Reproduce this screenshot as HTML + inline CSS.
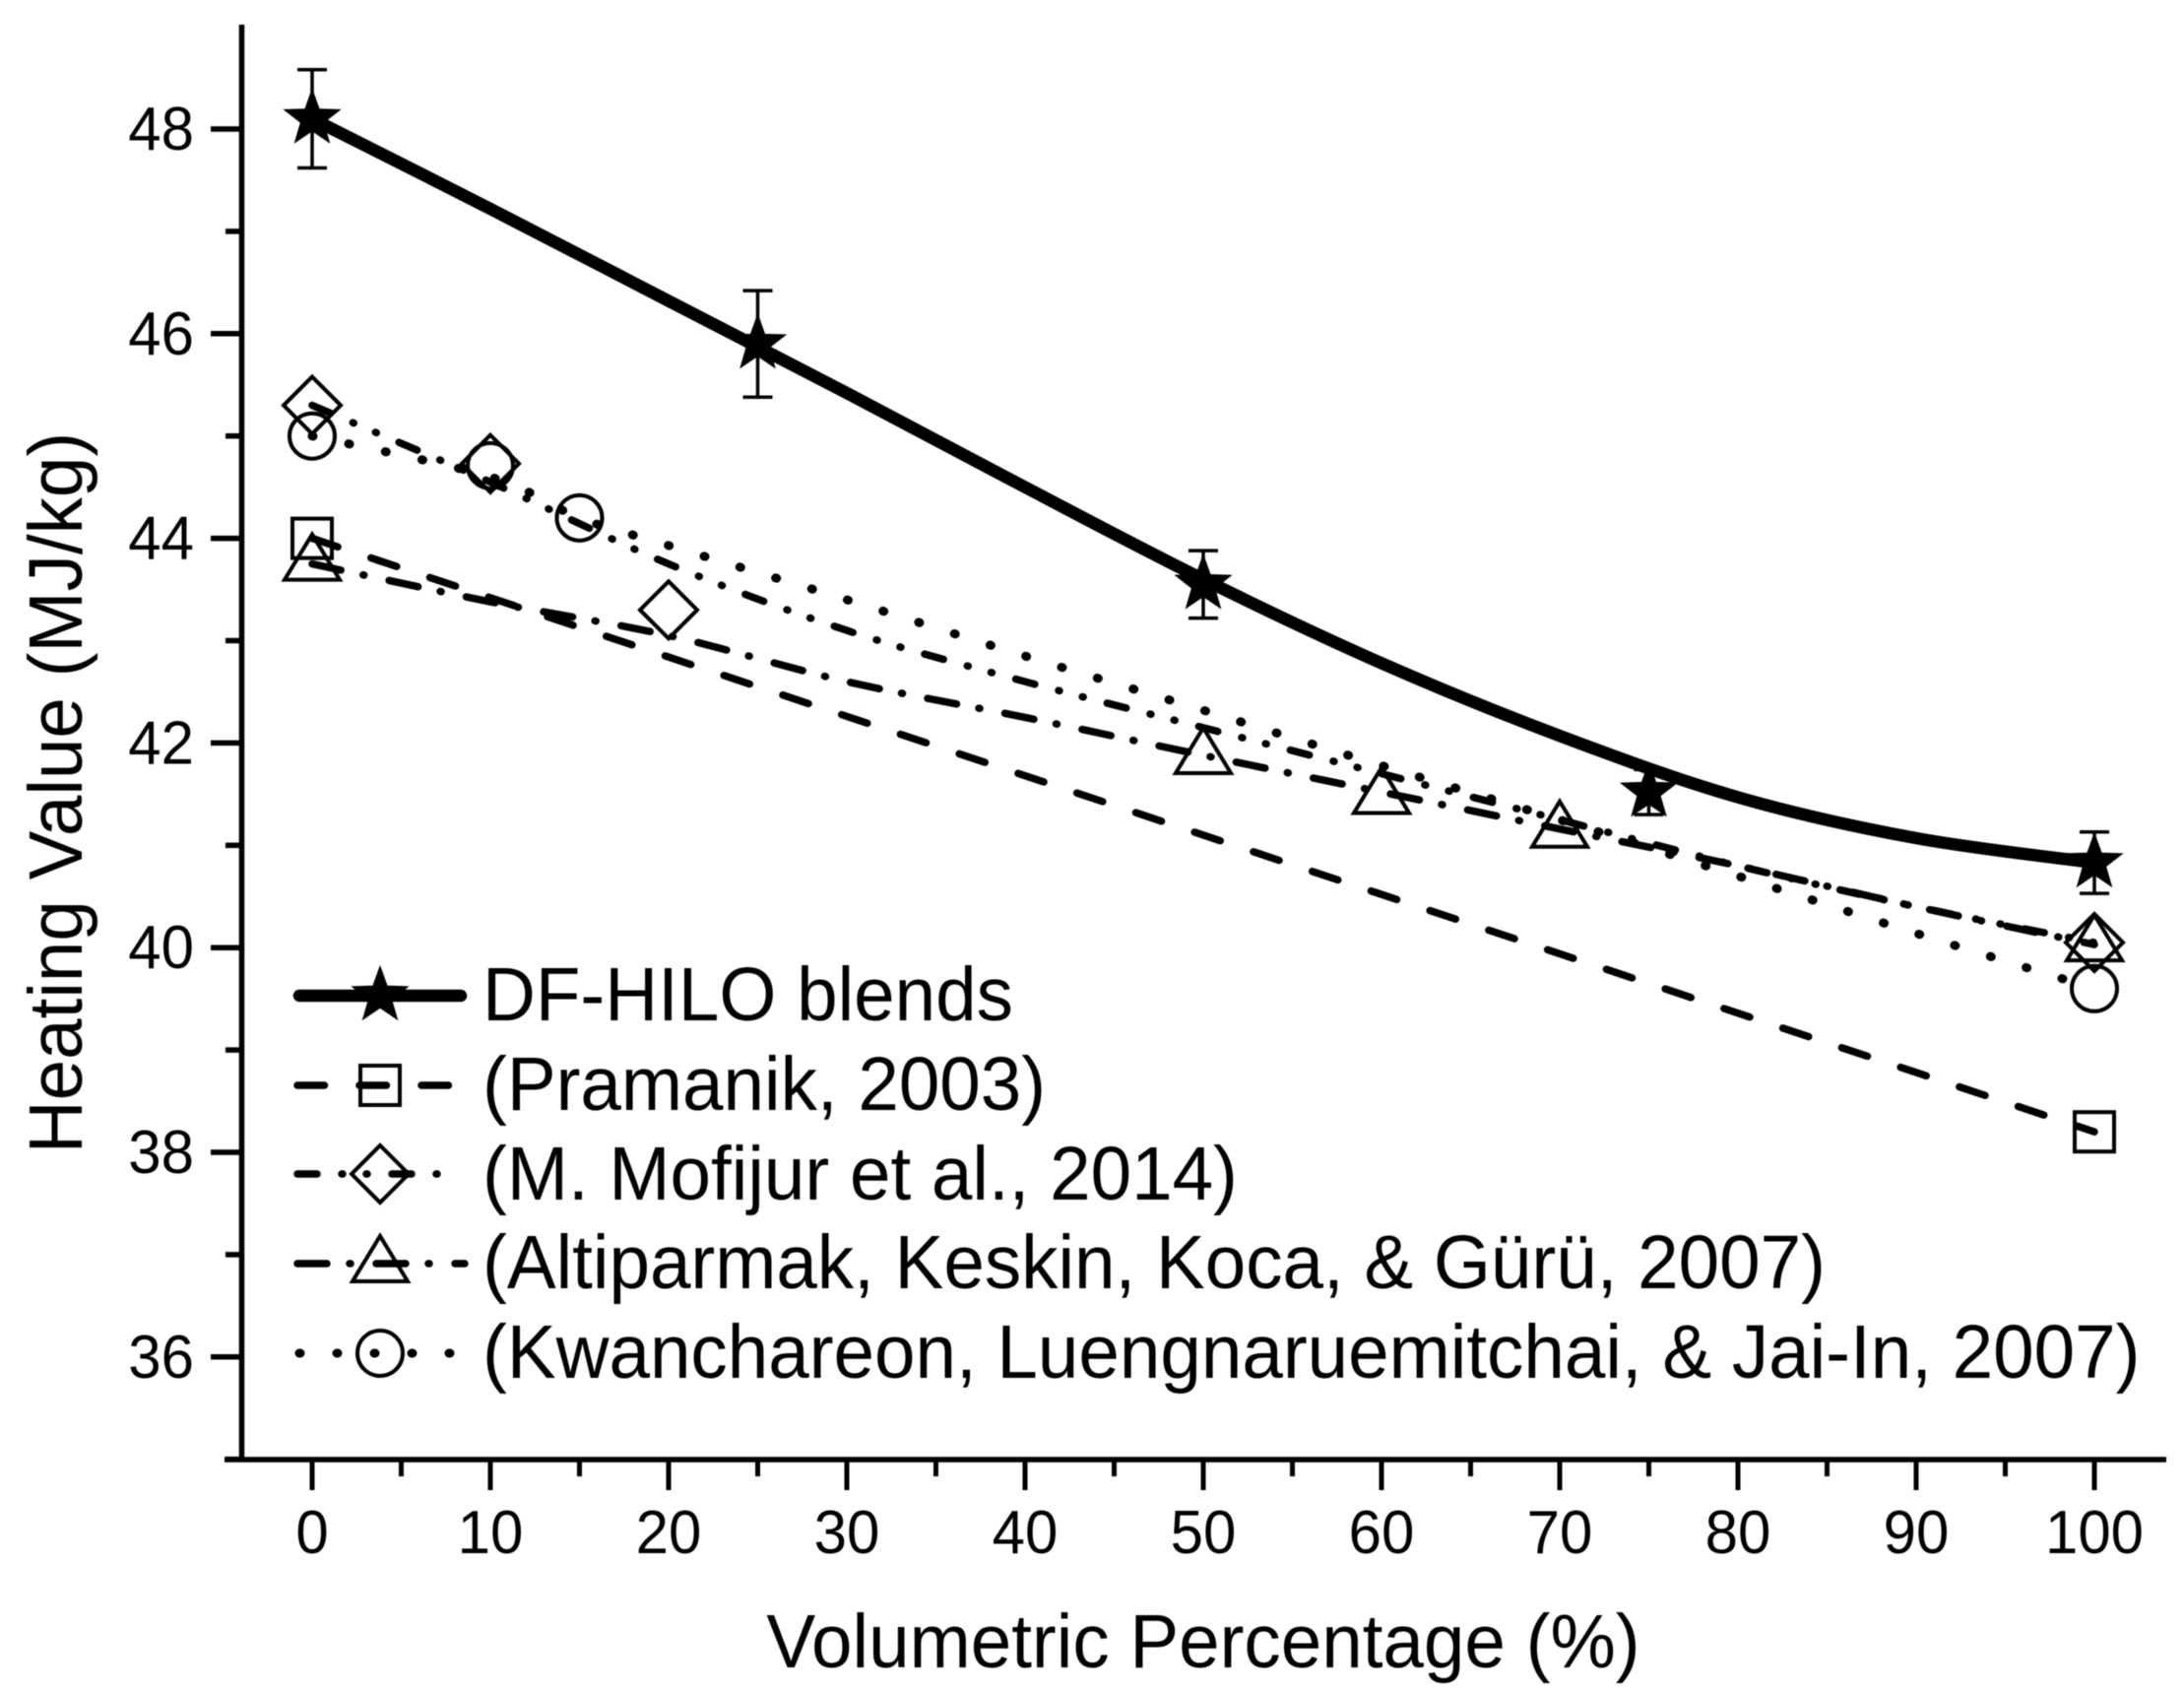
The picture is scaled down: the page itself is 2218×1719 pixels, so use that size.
<!DOCTYPE html>
<html lang="en">
<head>
<meta charset="utf-8">
<title>Heating Value vs Volumetric Percentage</title>
<style>
html,body{margin:0;padding:0;background:#fff;}
svg{display:block;filter:blur(0.6px);}
text{font-family:"Liberation Sans",Arial,sans-serif;fill:#000;}
</style>
</head>
<body>
<svg id="chart" xmlns="http://www.w3.org/2000/svg" width="2218" height="1719" viewBox="0 0 2218 1719">
  <rect width="2218" height="1719" fill="#fff"/>
  <g id="axes"></g>
  <g id="series"></g>
  <g id="legend">
    <text transform="translate(490,1036) scale(1,1.03)" font-size="74.6">DF-HILO blends</text>
    <text transform="translate(490,1127) scale(1,1.03)" font-size="74.6">(Pramanik, 2003)</text>
    <text transform="translate(490,1218) scale(1,1.03)" font-size="74.6">(M. Mofijur et al., 2014)</text>
    <text transform="translate(490,1308) scale(1,1.03)" font-size="74.6">(Altiparmak, Keskin, Koca, &amp; Gürü, 2007)</text>
    <text transform="translate(490,1399) scale(1,1.03)" font-size="74.6">(Kwanchareon, Luengnaruemitchai, &amp; Jai-In, 2007)</text>
  </g>
  <text transform="translate(1222,1693) scale(1,1.03)" font-size="74.6" text-anchor="middle">Volumetric Percentage (%)</text>
  <text transform="translate(83,805) rotate(-90) scale(1,1.03)" font-size="74.6" text-anchor="middle">Heating Value (MJ/kg)</text>
</svg>
<script>
// ---- Tick labels ----
var xTickValues = [0, 10, 20, 30, 40, 50, 60, 70, 80, 90, 100];
var xMinorValues = [5, 15, 25, 35, 45, 55, 65, 75, 85, 95];
var yTickValues = [36, 38, 40, 42, 44, 46, 48];
var yMinorValues = [35, 37, 39, 41, 43, 45, 47];

// ---- DF-HILO blends ----
var dfX = [0, 25, 50, 75, 100];
var dfY = [48.1, 45.9, 43.55, 41.52, 40.83];
var dfErr = [0.48, 0.52, 0.33, 0.22, 0.3];
var dfFitX = [0, 10, 20, 30, 40, 50, 60, 70, 80, 90, 100];
var dfFitY = [48.1, 47.22, 46.32, 45.42, 44.5, 43.6, 42.78, 42.07, 41.47, 41.07, 40.83];

// ---- Pramanik, 2003 ----
var pramanikX = [0, 100];
var pramanikY = [44, 38.2];

// ---- Mofijur et al., 2014 ----
var mofijurX = [0, 10, 20, 100];
var mofijurY = [45.3, 44.73, 43.3, 40.05];
var mofijurFitX = [0, 10, 20, 30, 40, 50, 60, 70, 80, 90, 100];
var mofijurFitY = [45.3, 44.55, 43.75, 43.1, 42.6, 42.15, 41.7, 41.25, 40.8, 40.4, 40.05];

// ---- Altiparmak et al., 2007 ----
var altiparmakX = [0, 50, 60, 70, 100];
var altiparmakY = [43.75, 41.86, 41.47, 41.14, 40.03];
var altiparmakFitX = [0, 10, 20, 30, 40, 50, 60, 70, 80, 90, 100];
var altiparmakFitY = [43.75, 43.38, 43.05, 42.6, 42.25, 41.88, 41.52, 41.16, 40.8, 40.4, 40.03];

// ---- Kwanchareon et al., 2007 ----
var kwanX = [0, 10, 15, 100];
var kwanY = [45, 44.71, 44.2, 39.6];
var kwanFitX = [0, 10, 15, 20, 30, 40, 50, 60, 70, 80, 90, 100];
var kwanFitY = [45, 44.6, 44.2, 43.93, 43.4, 42.85, 42.32, 41.78, 41.25, 40.7, 40.14, 39.6];

// ---- Axis functions ----
function xScale(v) { return 317 + v * 18.1; }
function yScale(v) { return 131 + (48 - v) * 103.9; }

var NS = 'http://www.w3.org/2000/svg';
function make(tag, attrs, parent) {
  var el = document.createElementNS(NS, tag);
  for (var k in attrs) { el.setAttribute(k, attrs[k]); }
  parent.appendChild(el);
  return el;
}
var axes = document.getElementById('axes');
var seriesG = document.getElementById('series');
var legend = document.getElementById('legend');

// ---- Axes ----
var yAxisLine = make('line', {x1: 245.5, y1: 25, x2: 245.5, y2: 1484, stroke: '#000', 'stroke-width': 5.5}, axes);


var xAxisLine = make('line', {x1: 228, y1: 1482, x2: 2200, y2: 1482, stroke: '#000', 'stroke-width': 5.5}, axes);



xTickValues.forEach(function (v) {
  var t = make('line', {x1: xScale(v), y1: 1482, x2: xScale(v), y2: 1513, stroke: '#000', 'stroke-width': 5}, axes);
  
  
  var l = make('text', {transform: 'translate(' + xScale(v) + ',1577) scale(1,1.04)', 'font-size': 60, 'text-anchor': 'middle'}, axes);
  
  
  l.textContent = String(v);
});
xMinorValues.forEach(function (v) {
  var t = make('line', {x1: xScale(v), y1: 1482, x2: xScale(v), y2: 1499, stroke: '#000', 'stroke-width': 5}, axes);
  
  
});
yTickValues.forEach(function (v) {
  var t = make('line', {x1: 214, y1: yScale(v), x2: 245, y2: yScale(v), stroke: '#000', 'stroke-width': 5.5}, axes);
  
  
  var l = make('text', {transform: 'translate(197,' + (yScale(v) + 21) + ') scale(1,1.04)', 'font-size': 60, 'text-anchor': 'end'}, axes);
  
  
  l.textContent = String(v);
});
yMinorValues.forEach(function (v) {
  var t = make('line', {x1: 229, y1: yScale(v), x2: 245, y2: yScale(v), stroke: '#000', 'stroke-width': 5.5}, axes);
  
  
});

// ---- Path builders ----
function straightPath(xs, ys) {
  var d = '';
  for (var i = 0; i < xs.length; i++) {
    d += (i ? 'L' : 'M') + xScale(xs[i]).toFixed(2) + ' ' + yScale(ys[i]).toFixed(2);
  }
  return d;
}
function smoothPath(xs, ys) {
  var px = xs.map(xScale), py = ys.map(yScale);
  var d = 'M' + px[0].toFixed(2) + ' ' + py[0].toFixed(2);
  for (var i = 0; i < px.length - 1; i++) {
    var a = Math.max(i - 1, 0), b = Math.min(i + 2, px.length - 1);
    var c1x = px[i] + (px[i + 1] - px[a]) / 6, c1y = py[i] + (py[i + 1] - py[a]) / 6;
    var c2x = px[i + 1] - (px[b] - px[i]) / 6, c2y = py[i + 1] - (py[b] - py[i]) / 6;
    d += 'C' + c1x.toFixed(2) + ' ' + c1y.toFixed(2) + ' ' + c2x.toFixed(2) + ' ' + c2y.toFixed(2) + ' ' + px[i + 1].toFixed(2) + ' ' + py[i + 1].toFixed(2);
  }
  return d;
}

// ---- Marker shapes ----
function starPoints(cx, cy, r) {
  var pts = [];
  for (var i = 0; i < 10; i++) {
    var rad = i % 2 ? r * 0.41 : r;
    var ang = -Math.PI / 2 + i * Math.PI / 5;
    pts.push((cx + rad * Math.cos(ang)).toFixed(2) + ',' + (cy + rad * Math.sin(ang)).toFixed(2));
  }
  return pts.join(' ');
}
function drawStar(parent, cx, cy) {
  return make('polygon', {points: starPoints(cx, cy, 29), fill: '#000', stroke: '#000', 'stroke-width': 1.5}, parent);
}
function drawSquare(parent, cx, cy) {
  return make('rect', {x: cx - 20, y: cy - 20, width: 40, height: 40, fill: 'none', stroke: '#000', 'stroke-width': 4}, parent);
}
function drawDiamond(parent, cx, cy) {
  var p = [cx, cy - 29, cx + 29, cy, cx, cy + 29, cx - 29, cy].join(' ');
  return make('polygon', {points: p, fill: 'none', stroke: '#000', 'stroke-width': 4}, parent);
}
function drawTriangle(parent, cx, cy) {
  var p = [cx, cy - 30, cx + 28, cy + 16, cx - 28, cy + 16].join(' ');
  return make('polygon', {points: p, fill: 'none', stroke: '#000', 'stroke-width': 4}, parent);
}
function drawCircle(parent, cx, cy) {
  return make('circle', {cx: cx, cy: cy, r: 23, fill: 'none', stroke: '#000', 'stroke-width': 4}, parent);
}

var dashPramanik = '27.5 35.47';
var dashMofijur = '20 25 1 24 1 25';
var dashAltiparmak = '30 23 1 26';
var dashKwan = '1 37';

function lineAttrs(d, width, dash) {
  var a = {d: d, fill: 'none', stroke: '#000', 'stroke-width': width, 'stroke-linecap': 'round', 'stroke-linejoin': 'round'};
  if (dash) { a['stroke-dasharray'] = dash; }
  return a;
}

// ---- Series lines ----
var dfLine = make('path', lineAttrs(smoothPath(dfFitX, dfFitY), 12.5, null), seriesG);


var pramanikLine = make('path', lineAttrs(straightPath(pramanikX, pramanikY), 7.5, dashPramanik), seriesG);


var mofijurLine = make('path', lineAttrs(smoothPath(mofijurFitX, mofijurFitY), 7.5, dashMofijur), seriesG);


var altiparmakLine = make('path', lineAttrs(smoothPath(altiparmakFitX, altiparmakFitY), 7.5, dashAltiparmak), seriesG);


var kwanLine = make('path', lineAttrs(smoothPath(kwanFitX, kwanFitY), 9, dashKwan), seriesG);



// ---- Error bars and markers ----
dfX.forEach(function (v, i) {
  var cx = xScale(v), top = yScale(dfY[i] + dfErr[i]), bot = yScale(dfY[i] - dfErr[i]);
  var eb = make('path', {d: 'M' + (cx - 15) + ' ' + top + 'H' + (cx + 15) + 'M' + cx + ' ' + top + 'V' + bot + 'M' + (cx - 15) + ' ' + bot + 'H' + (cx + 15), fill: 'none', stroke: '#000', 'stroke-width': 3.5}, seriesG);
  
  
  var m = drawStar(seriesG, cx, yScale(dfY[i]));
  
  
});
pramanikX.forEach(function (v, i) {
  var m = drawSquare(seriesG, xScale(v), yScale(pramanikY[i]));
  
  
});
mofijurX.forEach(function (v, i) {
  var m = drawDiamond(seriesG, xScale(v), yScale(mofijurY[i]));
  
  
});
altiparmakX.forEach(function (v, i) {
  var m = drawTriangle(seriesG, xScale(v), yScale(altiparmakY[i]));
  
  
});
kwanX.forEach(function (v, i) {
  var m = drawCircle(seriesG, xScale(v), yScale(kwanY[i]));
  
  
});

// ---- Legend samples ----
var legendLine1 = make('path', lineAttrs('M304 1011H468', 12.5, null), legend);


var legendMarker1 = drawStar(legend, 386, 1011);



var legendLine2 = make('path', lineAttrs('M302 1102H458', 7.5, dashPramanik), legend);


var legendMarker2 = drawSquare(legend, 386, 1102);



var legendLine3 = make('path', lineAttrs('M302 1192H451', 7.5, dashMofijur), legend);


var legendMarker3 = drawDiamond(legend, 386, 1192);



var legendLine4 = make('path', lineAttrs('M302 1283H472', 7.5, dashAltiparmak), legend);


var legendMarker4 = drawTriangle(legend, 386, 1285);



var legendLine5 = make('path', lineAttrs('M304 1374H462', 9, dashKwan), legend);


var legendMarker5 = drawCircle(legend, 386, 1374);


</script>
</body>
</html>
